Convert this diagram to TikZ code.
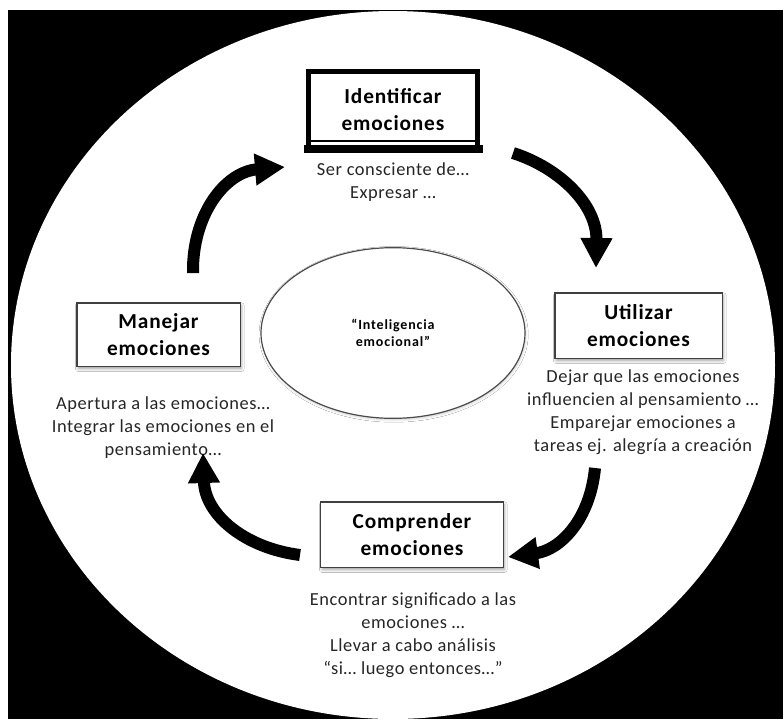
\documentclass[tikz,border=0pt]{standalone}
\usepackage{fontspec}
\setmainfont{Carlito}
\usepackage{tikz}
\usetikzlibrary{arrows.meta}
\usetikzlibrary{shadows.blur}
\usetikzlibrary{shapes}

\begin{document}
\begin{tikzpicture}[x=0.75pt,y=0.75pt,yscale=-1,xscale=1,
  caja/.style={draw=black!75,line width=1.1pt,fill=white,align=center,inner sep=0pt,
    blur shadow={shadow xshift=1pt,shadow yshift=-2pt,shadow blur steps=6,shadow opacity=35}},
  titulo/.style={font=\fontsize{16}{20}\selectfont\bfseries\addfontfeature{LetterSpace=4}},
  desc/.style={align=center,inner sep=0pt,text=black!85,font=\fontsize{13.8}{17.25}\selectfont\addfontfeature{LetterSpace=3}},
  flujo/.style={line width=9pt,-{Triangle[length=22.5pt,width=22.5pt]}}]
\useasboundingbox (0,0) rectangle (783,719);

%Shape: Rectangle (fondo)
\fill[white] (0,0) rectangle (783,719);
\fill[black] (8,10) rectangle (783,719);
%Shape: Ellipse (grande)
\fill[white] (393,365) ellipse [x radius=382,y radius=354];

%Shape: Ellipse (centro)
\node[ellipse,draw=black!70,line width=0.9pt,fill=white,minimum width=198pt,minimum height=128pt,inner sep=0pt,
  blur shadow={shadow xshift=0.5pt,shadow yshift=-1pt,shadow blur steps=4,shadow opacity=20},
  align=center,font=\fontsize{10.5}{13}\selectfont\bfseries\addfontfeature{LetterSpace=6}] (ie) at (393,333) {“Inteligencia\\emocional”};

%Shape: Rectangle (identificar)
\node[draw,line width=3.75pt,fill=white,minimum width=126.75pt,minimum height=57pt,inner sep=0pt,align=center,titulo] (id) at (393,109.5) {Identificar\\emociones};
\fill ([shift={(-2.5,-5)}]id.south west) rectangle ([shift={(2.5,2.5)}]id.south east);
\draw[line width=0.9pt] ([shift={(4,4)}]id.north west) rectangle ([shift={(-4,-9)}]id.south east);

%Shape: Rectangle (utilizar)
\node[caja,titulo,minimum width=125.6pt,minimum height=49.1pt] (ut) at (638.5,325.5) {Utilizar\\emociones};
%Shape: Rectangle (comprender)
\node[caja,titulo,minimum width=136.9pt,minimum height=49.1pt] (co) at (412,534.5) {Comprender\\emociones};
%Shape: Rectangle (manejar)
\node[caja,titulo,minimum width=122.6pt,minimum height=47.6pt] (ma) at (158.5,334.5) {Manejar\\emociones};

% Text Node
\node[desc] (id-d) at (393,182) {Ser consciente de…\\Expresar …};
% Text Node
\node[desc] (ut-d) at (643,412) {Dejar que las emociones\\influencien al pensamiento …\\Emparejar emociones a\\tareas ej. alegría a creación};
% Text Node
\node[desc] (co-d) at (413,635) {Encontrar significado a las\\emociones …\\Llevar a cabo análisis\\“si… luego entonces…”};
% Text Node
\node[desc] (ma-d) at (163,428) {Apertura a las emociones…\\Integrar las emociones en el\\pensamiento…};

%Curve Lines (flechas)
\coordinate (idOut) at (513,153);
\coordinate (utIn) at (596,268);
\draw[flujo] (idOut) .. controls (560,168) and (597,205) .. (utIn);
\coordinate (utOut) at (595,468);
\coordinate (coIn) at (508,557);
\draw[flujo] (utOut) .. controls (590,520) and (560,550) .. (coIn);
\coordinate (coOut) at (300,555);
\coordinate (maIn) at (203,453);
\draw[flujo] (coOut) .. controls (245,548) and (205,515) .. (maIn);
\coordinate (maOut) at (193,273);
\coordinate (idIn) at (285,167);
\draw[flujo] (maOut) .. controls (192,215) and (225,172) .. (idIn);

\end{tikzpicture}
\end{document}
